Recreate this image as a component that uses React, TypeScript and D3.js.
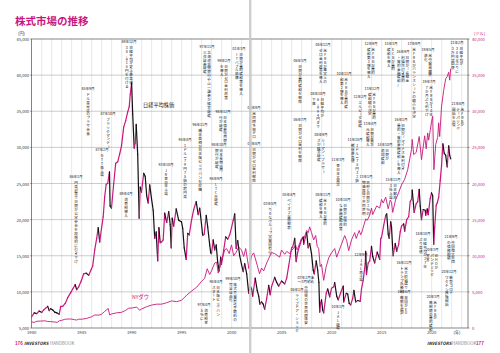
import * as d3 from "d3";

const MAGENTA = "#c8177e";
const INK = "#1a1a1a";
const FONT = "'Noto Sans CJK JP', 'Noto Sans', sans-serif";
const W = 500;
const H = 353;

const plot = { left: 31.7, right: 468, top: 39, bottom: 328 };

// axis ticks
const yenTicks = [5000, 10000, 15000, 20000, 25000, 30000, 35000, 40000, 45000];
const dollarTicks = [0, 5000, 10000, 15000, 20000, 25000, 30000, 35000, 40000];
const yearTicks = [1980, 1985, 1990, 1995, 2000, 2005, 2010, 2015, 2020];

// 日経平均株価 (円) [year, value]
const nikkei: [number, number][] = [
  [1980.0, 6560], [1980.25, 7100], [1980.5, 7000], [1980.75, 7350], [1981.0, 7150],
  [1981.2, 7500], [1981.4, 7750], [1981.6, 8000], [1981.75, 7400], [1981.9, 7680],
  [1982.1, 7500], [1982.3, 7200], [1982.5, 7100], [1982.75, 6900], [1982.9, 8000],
  [1983.1, 8000], [1983.35, 8400], [1983.6, 9200], [1983.9, 9900], [1984.1, 10400],
  [1984.35, 11000], [1984.5, 10300], [1984.7, 10700], [1984.95, 11500], [1985.2, 12500],
  [1985.45, 12600], [1985.7, 12300], [1985.95, 13100], [1986.1, 13600], [1986.3, 15800],
  [1986.5, 17400], [1986.65, 18900], [1986.8, 16900], [1986.98, 18800], [1987.15, 20400],
  [1987.3, 23200], [1987.45, 24900], [1987.6, 25000], [1987.78, 26600], [1987.84, 21900],
  [1987.98, 21600], [1988.2, 25000], [1988.4, 27800], [1988.6, 28000], [1988.8, 29100],
  [1988.98, 30200], [1989.2, 32800], [1989.4, 33700], [1989.6, 34900], [1989.75, 35600],
  [1989.85, 37300], [1989.99, 38900], [1990.1, 34600], [1990.25, 29900], [1990.35, 30600],
  [1990.45, 33200], [1990.6, 29000], [1990.75, 20200], [1990.85, 24500], [1990.98, 23800],
  [1991.2, 26400], [1991.35, 26000], [1991.5, 23300], [1991.65, 22300], [1991.8, 24800],
  [1991.98, 22900], [1992.15, 21300], [1992.3, 17400], [1992.45, 18300], [1992.6, 14300],
  [1992.72, 18900], [1992.85, 16800], [1992.98, 16900], [1993.15, 17200], [1993.3, 20900],
  [1993.5, 19600], [1993.7, 21100], [1993.85, 19300], [1993.95, 16100], [1994.05, 20200],
  [1994.2, 19100], [1994.45, 21500], [1994.7, 19900], [1994.98, 19700], [1995.1, 18800],
  [1995.25, 16100], [1995.45, 14500], [1995.6, 18100], [1995.75, 17900], [1995.98, 19900],
  [1996.2, 21400], [1996.45, 22500], [1996.65, 20700], [1996.8, 21600], [1996.98, 19400],
  [1997.1, 17800], [1997.25, 18000], [1997.45, 20600], [1997.6, 19000], [1997.8, 16500],
  [1997.9, 15400], [1997.98, 15300], [1998.15, 17200], [1998.3, 15800], [1998.45, 16500],
  [1998.6, 14100], [1998.75, 12900], [1998.9, 14800], [1998.98, 13800], [1999.2, 15800],
  [1999.4, 17600], [1999.6, 17300], [1999.8, 17900], [1999.98, 18900], [2000.15, 19900],
  [2000.3, 20800], [2000.45, 16000], [2000.6, 17100], [2000.8, 15000], [2000.98, 13800],
  [2001.15, 12800], [2001.3, 13900], [2001.5, 12500], [2001.7, 9800], [2001.85, 10700],
  [2001.98, 10500], [2002.1, 9400], [2002.35, 11900], [2002.55, 10200], [2002.7, 9400],
  [2002.82, 8300], [2002.98, 8600], [2003.15, 8300], [2003.3, 7600], [2003.5, 9100],
  [2003.7, 10900], [2003.85, 9600], [2003.98, 10700], [2004.3, 12000], [2004.5, 11300],
  [2004.7, 10800], [2004.98, 11500], [2005.3, 11100], [2005.5, 11900], [2005.7, 13600],
  [2005.85, 14900], [2005.99, 16100], [2006.1, 16200], [2006.3, 17400], [2006.45, 14200],
  [2006.6, 15500], [2006.8, 16400], [2006.98, 17200], [2007.15, 17600], [2007.2, 16600],
  [2007.5, 18200], [2007.65, 16100], [2007.8, 16700], [2007.98, 15300], [2008.15, 13000],
  [2008.25, 12500], [2008.45, 14300], [2008.6, 13000], [2008.72, 11300], [2008.8, 7200],
  [2008.9, 8500], [2008.98, 8900], [2009.1, 7500], [2009.2, 7100], [2009.45, 9800],
  [2009.6, 10400], [2009.8, 9300], [2009.98, 10500], [2010.2, 10700], [2010.3, 11300],
  [2010.5, 9400], [2010.65, 8900], [2010.98, 10200], [2011.15, 10800], [2011.2, 8600],
  [2011.45, 9800], [2011.6, 9700], [2011.75, 8400], [2011.9, 8200], [2012.1, 9100],
  [2012.22, 10200], [2012.4, 8600], [2012.6, 8800], [2012.85, 8700], [2012.98, 10400],
  [2013.15, 11600], [2013.35, 13900], [2013.4, 15600], [2013.48, 12400], [2013.65, 14000],
  [2013.8, 14300], [2013.98, 16300], [2014.1, 14900], [2014.3, 14000], [2014.55, 15500],
  [2014.8, 14500], [2014.9, 17400], [2014.98, 17500], [2015.2, 19200], [2015.4, 20600],
  [2015.5, 20800], [2015.65, 18000], [2015.75, 17400], [2015.9, 19700], [2015.98, 19000],
  [2016.1, 16000], [2016.15, 15000], [2016.35, 16700], [2016.5, 15600], [2016.7, 16600],
  [2016.85, 18300], [2016.98, 19100], [2017.2, 19400], [2017.3, 18400], [2017.5, 20000],
  [2017.7, 20400], [2017.85, 22500], [2017.98, 22800], [2018.05, 24100], [2018.25, 21000],
  [2018.45, 22200], [2018.6, 22500], [2018.75, 24200], [2018.85, 21900], [2018.98, 20000],
  [2019.15, 21400], [2019.35, 21300], [2019.4, 20600], [2019.55, 21500], [2019.65, 20700],
  [2019.85, 22900], [2019.98, 23700], [2020.1, 23300], [2020.2, 16600], [2020.3, 19000],
  [2020.45, 22000], [2020.55, 22300], [2020.7, 23100], [2020.85, 25400], [2020.98, 27400],
  [2021.12, 30500], [2021.25, 29200], [2021.4, 28900], [2021.55, 27300], [2021.7, 30200],
  [2021.8, 28900], [2021.9, 28400],
];

// NYダウ (ドル) [year, value]
const dow: [number, number][] = [
  [1980.0, 840], [1980.25, 780], [1980.5, 930], [1980.9, 960], [1981.3, 1000],
  [1981.6, 900], [1981.9, 880], [1982.3, 830], [1982.55, 780], [1982.75, 990],
  [1982.98, 1050], [1983.3, 1200], [1983.5, 1230], [1983.9, 1250], [1984.3, 1150],
  [1984.5, 1100], [1984.7, 1220], [1984.98, 1210], [1985.5, 1330], [1985.98, 1550],
  [1986.3, 1800], [1986.7, 1780], [1986.98, 1900], [1987.3, 2300], [1987.65, 2700],
  [1987.8, 1800], [1987.98, 1940], [1988.5, 2100], [1988.98, 2170], [1989.4, 2450],
  [1989.7, 2750], [1989.98, 2750], [1990.5, 2900], [1990.8, 2450], [1990.98, 2630],
  [1991.5, 2950], [1991.98, 3170], [1992.5, 3300], [1992.98, 3300], [1993.5, 3500],
  [1993.98, 3750], [1994.5, 3650], [1994.98, 3830], [1995.5, 4550], [1995.98, 5100],
  [1996.5, 5650], [1996.98, 6450], [1997.3, 6900], [1997.55, 8200], [1997.8, 7400],
  [1997.98, 7900], [1998.3, 9000], [1998.5, 9100], [1998.65, 7600], [1998.98, 9200],
  [1999.3, 10800], [1999.5, 11000], [1999.75, 10300], [1999.98, 11500], [2000.2, 10000],
  [2000.45, 10500], [2000.7, 11200], [2000.98, 10800], [2001.2, 9900], [2001.4, 11000],
  [2001.72, 8200], [2001.98, 10000], [2002.2, 10400], [2002.55, 8700], [2002.78, 7500],
  [2002.98, 8300], [2003.2, 7900], [2003.5, 9000], [2003.98, 10450], [2004.3, 10300],
  [2004.8, 9800], [2004.98, 10800], [2005.3, 10200], [2005.5, 10600], [2005.8, 10300],
  [2005.98, 10700], [2006.4, 11400], [2006.55, 10800], [2006.98, 12400], [2007.2, 12300],
  [2007.5, 13500], [2007.65, 13200], [2007.8, 14000], [2007.98, 13200], [2008.2, 12200],
  [2008.4, 12800], [2008.55, 11300], [2008.7, 11000], [2008.85, 8500], [2008.98, 8800],
  [2009.2, 6600], [2009.45, 8500], [2009.7, 9700], [2009.98, 10400], [2010.3, 11000],
  [2010.5, 9800], [2010.98, 11600], [2011.3, 12800], [2011.5, 12100], [2011.7, 10700],
  [2011.98, 12200], [2012.3, 13200], [2012.45, 12400], [2012.75, 13500], [2012.9, 12900],
  [2012.98, 13100], [2013.4, 15100], [2013.55, 14900], [2013.8, 15600], [2013.98, 16600],
  [2014.1, 15700], [2014.5, 16900], [2014.8, 16600], [2014.98, 17800], [2015.15, 17300],
  [2015.4, 18100], [2015.65, 16500], [2015.85, 17700], [2015.98, 17400], [2016.1, 16000],
  [2016.4, 17800], [2016.6, 18400], [2016.98, 19800], [2017.3, 20600], [2017.6, 21900],
  [2017.98, 24700], [2018.05, 26100], [2018.2, 24000], [2018.45, 24300], [2018.75, 26500],
  [2018.98, 23300], [2019.3, 26600], [2019.45, 24800], [2019.6, 27000], [2019.7, 26000],
  [2019.98, 28500], [2020.1, 29300], [2020.22, 21900], [2020.4, 25400], [2020.6, 26400],
  [2020.7, 28400], [2020.8, 26500], [2020.98, 30600], [2021.2, 32900], [2021.4, 34500],
  [2021.55, 34800], [2021.7, 35400], [2021.8, 34300], [2021.9, 35900],
];

// 出来事メモ: t = 年, v = 円軸での高さ, cols = 縦書きの行 (右から)
type Note = { t: number; v: number; date: string; cols: string[] };
const notes: Note[] = [
  { t: 1985.63, v: 38350, date: "85年9月", cols: ["ドル高是正のプラザ合意"] },
  { t: 1987.63, v: 34890, date: "87年10月", cols: ["ブラックマンデー"] },
  { t: 1987.03, v: 29910, date: "87年2月", cols: ["NTT株上場"] },
  { t: 1984.43, v: 26180, date: "86年1月", cols: ["円高対策で日銀が公定歩合を段階的に引き下げ"] },
  { t: 1989.73, v: 44860, date: "89年12月", cols: ["日経平均が史上最高値", "38,915円を付ける"] },
  { t: 1989.43, v: 23820, date: "89年4月", cols: ["消費税導入"] },
  { t: 1993.43, v: 27840, date: "93年10月", cols: ["JR東日本上場"] },
  { t: 1995.33, v: 31300, date: "95年4月", cols: ["1ドル＝79円75銭の超円高"] },
  { t: 1996.83, v: 33370, date: "96年11月", cols: ["橋本首相が日本版ビッグバンを提唱"] },
  { t: 1997.53, v: 44170, date: "97年11月", cols: ["北海道拓殖銀行や山一證券が経営破綻", "三洋証券破綻"] },
  { t: 1999.23, v: 42230, date: "99年2月", cols: ["日銀がゼロ金利政策", "を導入"] },
  { t: 2000.73, v: 43890, date: "01年3月", cols: ["日銀が量的緩和策を導入", "ITバブル崩壊"] },
  { t: 1999.13, v: 35170, date: "98年12月", cols: ["日本債券信用銀", "行が破綻"] },
  { t: 1998.73, v: 30600, date: "98年10月", cols: ["日本長期信用", "銀行が破綻"] },
  { t: 1998.43, v: 25900, date: "98年9月", cols: ["LTCM破綻"] },
  { t: 2002.23, v: 35720, date: "01年9月", cols: ["米同時多発テロ"] },
  { t: 2002.23, v: 30740, date: "00年8月", cols: ["日銀がゼロ金利解除"] },
  { t: 2003.83, v: 22440, date: "03年5月", cols: ["りそなグループ実質国有化"] },
  { t: 2005.73, v: 23680, date: "05年4月", cols: ["ペイオフ全面解禁"] },
  { t: 2006.83, v: 42230, date: "06年3月", cols: ["日銀が量的緩和を解除"] },
  { t: 2006.83, v: 34060, date: "06年7月", cols: ["日銀がゼロ金利を解除"] },
  { t: 2009.13, v: 44440, date: "08年12月", cols: ["米FRBが事実上の", "ゼロ金利政策を導入"] },
  { t: 2008.63, v: 37660, date: "08年10月", cols: ["日経平均が", "6,994円まで", "下落"] },
  { t: 2008.93, v: 32000, date: "08年9月", cols: ["リーマン・ブラザー", "ズが経営破綻"] },
  { t: 2007.43, v: 12200, date: "07年2月末\n～3月初め", cols: ["中国発の世界同時株安"] },
  { t: 2006.53, v: 10540, date: "06年1月", cols: ["ライブドア・ショック"] },
  { t: 2009.13, v: 23680, date: "08年11月", cols: ["米FRBが量的", "緩和を導入"] },
  { t: 2011.23, v: 40430, date: "10年11月", cols: ["米FRBが量的緩", "和第2弾を導入"] },
  { t: 2013.93, v: 44580, date: "12年9月", cols: ["米FRBが量的", "緩和第3弾を導入"] },
  { t: 2015.93, v: 44580, date: "15年3月", cols: ["ECBが量的", "緩和を導入"] },
  { t: 2017.13, v: 43470, date: "16年9月", cols: ["日銀が「長短金", "利操作付き量的", "・質的金融緩和」"] },
  { t: 2018.23, v: 44580, date: "17年9月", cols: ["米FRBがバランスシートの縮小を決定"] },
  { t: 2019.63, v: 43750, date: "19年5月", cols: ["米中貿易摩擦", "激化"] },
  { t: 2019.73, v: 39320, date: "19年7月", cols: ["米FRBが10年", "7か月ぶり利下げ"] },
  { t: 2022.53, v: 44720, date: "21年2月", cols: ["日経平均が", "30年半ぶりに", "3万円台回復"] },
  { t: 2022.63, v: 36280, date: "21年8月", cols: ["米FRBが", "テーパリング", "開始を示唆"] },
  { t: 2010.63, v: 28530, date: "11年3月", cols: ["東日本大震災"] },
  { t: 2012.33, v: 31300, date: "11年10月", cols: ["1ドル＝75円32銭", "戦後最高値"] },
  { t: 2012.83, v: 37250, date: "12年2月", cols: ["エルピーダ破綻"] },
  { t: 2014.03, v: 38350, date: "13年12月", cols: ["米FRBが量的", "緩和縮小決定"] },
  { t: 2013.83, v: 33520, date: "13年4月", cols: ["日銀が異次", "元緩和導入"] },
  { t: 2015.33, v: 30600, date: "14年10月", cols: ["日銀が", "追加緩和"] },
  { t: 2016.13, v: 25760, date: "15年11月", cols: ["日本郵政", "3社上場"] },
  { t: 2016.93, v: 34060, date: "16年1月", cols: ["日銀が「マイナス金利付き", "量的・質的金融緩和」を導入"] },
  { t: 2013.43, v: 26180, date: "13年1月", cols: ["政府と日銀が2%の", "物価目標で共同声明"] },
  { t: 2011.13, v: 22990, date: "10年10月", cols: ["日銀が包括的", "な金融緩和政策"] },
  { t: 2012.93, v: 15380, date: "12年9月", cols: ["JAL再上場"] },
  { t: 2010.63, v: 8180, date: "10年1月", cols: ["JAL破綻"] },
  { t: 2017.23, v: 14270, date: "16年11月", cols: ["米大統領選で", "トランプ氏勝利"] },
  { t: 2017.23, v: 10260, date: "16年6月", cols: ["英国がEU", "離脱を選択"] },
  { t: 2019.13, v: 18290, date: "18年10月", cols: ["日経平均が27年", "ぶり高値"] },
  { t: 2020.03, v: 16070, date: "20年3月", cols: ["WHOが", "パンデミック", "宣言"] },
  { t: 2020.13, v: 9570, date: "20年3月", cols: ["米FRBが", "無制限の量的緩和"] },
  { t: 2021.73, v: 13030, date: "20年12月", cols: ["新型コロナ", "ワクチン接種開始"] },
  { t: 2021.93, v: 17870, date: "21年9月", cols: ["中国恒大集団", "の債務問題"] },
  { t: 1997.23, v: 8460, date: "97年4月", cols: ["消費税率", "5%に"] },
  { t: 1998.43, v: 11640, date: "98年4月", cols: ["日本版ビッグバン", "スタート"] },
  { t: 2000.13, v: 12060, date: "99年10月", cols: ["株式売買委託手数料の", "完全自由化"] },
];

const x = d3.scaleLinear().domain([1980, 2023.63]).range([plot.left, plot.right]);
const yYen = d3.scaleLinear().domain([5000, 45000]).range([plot.bottom, plot.top]);
const yUsd = d3.scaleLinear().domain([0, 40000]).range([plot.bottom, plot.top]);

const fmt = d3.format(",");
const NOTE_SIZE = 3.6;
const STEP = 3.95;
const COL_GAP = 4.3;
const ROTATED = new Set(["ー", "～", "－"]);

function VerticalText({ cx, top, text }: { cx: number; top: number; text: string }) {
  return (
    <g>
      {Array.from(text).map((ch, i) => {
        const cy = top + i * STEP + STEP / 2;
        return (
          <text
            key={i}
            x={cx}
            y={cy}
            textAnchor="middle"
            dominantBaseline="central"
            fontSize={NOTE_SIZE}
            transform={ROTATED.has(ch) ? `rotate(90 ${cx} ${cy})` : undefined}
          >
            {ch}
          </text>
        );
      })}
    </g>
  );
}

function NoteMark({ n }: { n: Note }) {
  const cx = x(n.t);
  const top = yYen(n.v);
  const lines = n.date.split("\n");
  const colTop = top + lines.length * 4.2 + 1;
  const k = n.cols.length;
  return (
    <g fill={INK} fontFamily={FONT}>
      {lines.map((l, i) => (
        <text key={i} x={cx} y={top + i * 4.2} dominantBaseline="hanging" textAnchor="middle" fontSize={3.6}>
          {l}
        </text>
      ))}
      {n.cols.map((c, i) => (
        <VerticalText key={i} cx={cx + ((k - 1) / 2) * COL_GAP - i * COL_GAP} top={colTop} text={c} />
      ))}
    </g>
  );
}

export default function App() {
  const years = d3.range(1981, 2024);
  const dowLine = d3.line<[number, number]>().x((d) => x(d[0])).y((d) => yUsd(d[1]));
  const segs = d3.pairs(nikkei);

  return (
    <div style={{ position: "fixed", left: 0, top: 0, width: W, height: H, background: "#fff" }}>
      <svg width={W} height={H} viewBox={`0 0 ${W} ${H}`} style={{ display: "block" }} fontFamily={FONT}>
        <rect width={W} height={H} fill="#fff" />

        {/* title */}
        <text x={15} y={25} fontSize={10.5} fontWeight={700} fill={MAGENTA}>
          株式市場の推移
        </text>

        {/* grid */}
        {years.map((yr) => (
          <line key={yr} x1={x(yr)} x2={x(yr)} y1={plot.top} y2={plot.bottom} stroke="#bdbdbd" strokeWidth={0.35} />
        ))}
        {yenTicks.slice(1, -1).map((v) => (
          <line key={v} x1={plot.left} x2={plot.right} y1={yYen(v)} y2={yYen(v)} stroke="#8c8c8c" strokeWidth={0.45} />
        ))}

        {/* frame */}
        <rect
          x={plot.left}
          y={plot.top}
          width={plot.right - plot.left}
          height={plot.bottom - plot.top}
          fill="none"
          stroke="#333"
          strokeWidth={0.6}
        />

        {/* left axis */}
        <g fontSize={4.2} fill="#333" textAnchor="end">
          <text x={25} y={35}>(円)</text>
          {yenTicks.map((v) => (
            <g key={v}>
              <line x1={plot.left - 1.5} x2={plot.left} y1={yYen(v)} y2={yYen(v)} stroke="#333" strokeWidth={0.5} />
              <text x={plot.left - 2.5} y={yYen(v)} dominantBaseline="central">
                {fmt(v)}
              </text>
            </g>
          ))}
        </g>

        {/* right axis */}
        <g fontSize={4.2} fill={MAGENTA}>
          <text x={474} y={35}>(ドル)</text>
          {dollarTicks.map((v) => (
            <g key={v}>
              <line x1={plot.right} x2={plot.right + 1.5} y1={yUsd(v)} y2={yUsd(v)} stroke="#333" strokeWidth={0.5} />
              <text x={plot.right + 4} y={yUsd(v)} dominantBaseline="central">
                {fmt(v)}
              </text>
            </g>
          ))}
        </g>

        {/* x axis */}
        <g fontSize={4.2} fill="#333" textAnchor="middle">
          {yearTicks.map((yr) => (
            <text key={yr} x={x(yr)} y={334}>
              {yr}
            </text>
          ))}
          <text x={457} y={334}>(年)</text>
        </g>

        {/* annotations */}
        {notes.map((n, i) => (
          <NoteMark key={i} n={n} />
        ))}

        {/* NY Dow */}
        <path d={dowLine(dow) ?? ""} fill="none" stroke={MAGENTA} strokeWidth={0.9} strokeLinejoin="round" />

        {/* Nikkei: up moves magenta, down moves black */}
        {segs.map(([a, b], i) => (
          <line
            key={i}
            x1={x(a[0])}
            y1={yYen(a[1])}
            x2={x(b[0])}
            y2={yYen(b[1])}
            stroke={b[1] >= a[1] ? MAGENTA : "#111"}
            strokeWidth={1.2}
            strokeLinecap="round"
          />
        ))}

        {/* series labels */}
        <text x={143} y={107} fontSize={5.2} fill={INK}>
          日経平均株価
        </text>
        <text x={132} y={299} fontSize={5.2} fill={MAGENTA}>
          NYダウ
        </text>

        {/* page gutter */}
        <rect x={249} y={0} width={2.4} height={H} fill="#c9c9c9" opacity={0.9} />

        {/* footer */}
        <g fontSize={4.4}>
          <text x={15} y={345} fill={MAGENTA} fontWeight={700}>176</text>
          <text x={24} y={345} fill={INK} fontWeight={700} fontStyle="italic">INVESTORS</text>
          <text x={50} y={345} fill="#8a8a8a">HANDBOOK</text>
          <text x={427} y={345} fill={INK} fontWeight={700} fontStyle="italic">INVESTORS</text>
          <text x={452} y={345} fill="#8a8a8a">HANDBOOK</text>
          <text x={476} y={345} fill={MAGENTA} fontWeight={700}>177</text>
        </g>
      </svg>
    </div>
  );
}
